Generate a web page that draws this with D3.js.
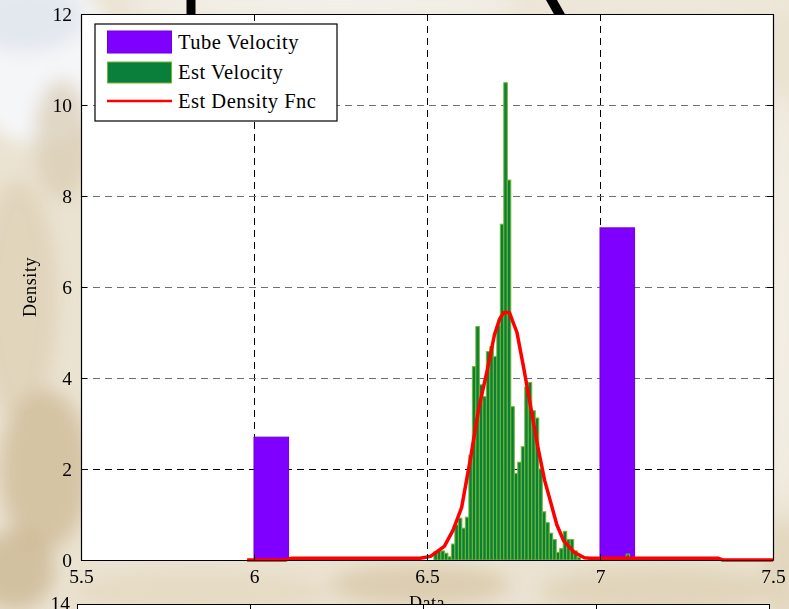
<!DOCTYPE html>
<html>
<head>
<meta charset="utf-8">
<script src="https://cdn.jsdelivr.net/npm/d3@7"></script>
<style>
  html, body { margin: 0; padding: 0; background: #ece4d4; overflow: hidden; }
  svg { display: block; }
  text { font-family: "Liberation Serif", "DejaVu Serif", serif; fill: #000; }
</style>
</head>
<body>
<svg id="chart" width="789" height="609"></svg>
<script>
// ---- data ----
// Tube velocity histogram (density), bins 0.1 wide
const tubeBinStarts = [6.0, 7.0];
const tubeBinWidth = 0.1;
const tubeDensity = [2.7, 7.3];

// Estimated velocity histogram (density)
const estBinStart = 6.52;
const estBinWidth = 0.0101;
const estDensity = [
  0.18, 0.22, 0.20, 0.15, 0.07, 0.35, 0.77, 0.92, 0.70, 0.94,
  2.30, 4.25, 5.13, 3.85, 3.59, 4.58, 4.69, 4.47, 5.16, 7.38,
  10.49, 8.35, 3.37, 1.90, 2.15, 2.49, 3.80, 3.90, 3.28, 3.12,
  2.00, 1.06, 0.82, 0.59, 0.45, 0.17, 0.25, 0.63, 0.45, 0.45,
  0.20, 0.06, 0, 0, 0, 0, 0, 0, 0, 0,
  0, 0, 0, 0, 0, 0.13
];

// Estimated density function
const densX = [5.98, 6.09, 6.11, 6.48, 6.51, 6.55, 6.575, 6.60, 6.625, 6.65,
               6.675, 6.695, 6.71, 6.722, 6.738, 6.76, 6.78, 6.80, 6.82, 6.84,
               6.86, 6.875, 6.895, 6.925, 6.955, 6.97, 7.34, 7.355, 7.5];
const densY = [0, 0, 0.04, 0.04, 0.08, 0.30, 0.65, 1.15, 2.2, 3.35,
               4.2, 4.95, 5.3, 5.44, 5.44, 5.0, 4.2, 3.35, 2.5, 1.75,
               1.2, 0.78, 0.42, 0.17, 0.05, 0.04, 0.04, 0, 0];

const xTicks = [5.5, 6, 6.5, 7, 7.5];
const yTicks = [0, 2, 4, 6, 8, 10, 12];
const legendLabels = ["Tube Velocity", "Est Velocity", "Est Density Fnc"];
const xLabel = "Data";
const yLabel = "Density";
const nextAxisTopLabel = "14";

// ---- layout ----
const svg = d3.select("#chart");
const W = 789, H = 609;
const plot = { left: 81, right: 773, top: 14, bottom: 560 };

const x = d3.scaleLinear().domain([5.5, 7.5]).range([plot.left, plot.right]);
const y = d3.scaleLinear().domain([0, 12]).range([plot.bottom, plot.top]);

const colors = {
  tube: "#8000ff", tubeEdge: "#6a00d8",
  est: "#0a7f3b", estEdge: "#74b82c",
  dens: "#ff0000"
};

// ---- soft photographic backdrop ----
const defs = svg.append("defs");
defs.append("filter").attr("id", "soft")
  .attr("x", "-50%").attr("y", "-50%").attr("width", "200%").attr("height", "200%")
  .append("feGaussianBlur").attr("stdDeviation", 9);

svg.append("rect").attr("width", W).attr("height", H).attr("fill", "#ebe3d2");
const backdrop = [
  [40, 60, 75, 85, "#f5f6f8", 1],
  [25, 18, 60, 35, "#dfe5ec", 0.8],
  [62, 140, 28, 60, "#d7cab0", 0.7],
  [18, 300, 40, 120, "#e0d3b9", 0.9],
  [45, 470, 45, 80, "#cfbb98", 0.8],
  [15, 570, 40, 40, "#c8b28b", 0.7],
  [200, 592, 130, 22, "#e6dac3", 0.9],
  [420, 585, 90, 20, "#d5c4a3", 0.7],
  [660, 590, 120, 24, "#dfd1b5", 0.8],
  [783, 300, 18, 210, "#f3eee5", 0.9],
  [783, 570, 20, 50, "#e0d3b9", 0.8],
  [340, 4, 220, 12, "#f4f2ed", 1],
  [660, 4, 160, 12, "#eee8dc", 1]
];
const bg = svg.append("g").attr("filter", "url(#soft)");
backdrop.forEach(b => bg.append("ellipse")
  .attr("cx", b[0]).attr("cy", b[1]).attr("rx", b[2]).attr("ry", b[3])
  .attr("fill", b[4]).attr("opacity", b[5]));

// fragments of the large slide title behind the axes
svg.append("rect").attr("x", 186.5).attr("y", 0).attr("width", 9).attr("height", 20).attr("fill", "#000");
svg.append("path").attr("d", "M546,0 L557,0 L566,16 L555,16 Z").attr("fill", "#000");

// ---- x label (partly covered by the next axes) ----
svg.append("text").attr("x", x(6.5)).attr("y", 609)
  .attr("text-anchor", "middle").attr("font-size", 18).attr("letter-spacing", 0.5)
  .text(xLabel);

// ---- next axes peeking in at the bottom ----
const x2 = d3.scaleLinear().domain([5.5, 7.5]).range([77, 769]);
svg.append("rect").attr("x", 77).attr("y", 604).attr("width", 692).attr("height", 40)
  .attr("fill", "#fff").attr("stroke", "#000").attr("stroke-width", 1)
  .attr("shape-rendering", "crispEdges");
svg.append("g").selectAll("line").data(xTicks.slice(1, -1)).join("line")
  .attr("x1", d => Math.round(x2(d)) + 0.5).attr("x2", d => Math.round(x2(d)) + 0.5)
  .attr("y1", 604).attr("y2", 611).attr("stroke", "#000");
svg.append("text").attr("x", 70).attr("y", 604).attr("dy", "0.32em")
  .attr("text-anchor", "end").attr("font-size", 19.5).text(nextAxisTopLabel);

// ---- plot area ----
svg.append("rect").attr("x", plot.left).attr("y", plot.top)
  .attr("width", plot.right - plot.left).attr("height", plot.bottom - plot.top)
  .attr("fill", "#fff");

// dashed grid
const grid = svg.append("g").attr("shape-rendering", "crispEdges");
grid.selectAll(".gx").data(xTicks.slice(1, -1)).join("line")
  .attr("x1", d => Math.round(x(d)) + 0.5).attr("x2", d => Math.round(x(d)) + 0.5)
  .attr("y1", plot.top).attr("y2", plot.bottom)
  .attr("stroke", "#000").attr("stroke-dasharray", "7,5");
grid.selectAll(".gy").data(yTicks.slice(1, -1)).join("line")
  .attr("x1", plot.left).attr("x2", plot.right)
  .attr("y1", d => Math.round(y(d)) + 0.5).attr("y2", d => Math.round(y(d)) + 0.5)
  .attr("stroke", d => d === 2 ? "#000" : "#707070").attr("stroke-dasharray", "7,5");

// tube velocity bars
svg.append("g").selectAll("rect").data(tubeBinStarts.map((s, i) => ({ s, v: tubeDensity[i] })))
  .join("rect")
  .attr("x", d => x(d.s)).attr("width", d => x(d.s + tubeBinWidth) - x(d.s))
  .attr("y", d => y(d.v)).attr("height", d => y(0) - y(d.v))
  .attr("fill", colors.tube).attr("stroke", colors.tubeEdge).attr("stroke-width", 1);

// estimated velocity bars
const estBins = estDensity.map((v, i) => ({ s: estBinStart + i * estBinWidth, v }))
  .filter(d => d.v > 0);
svg.append("g").selectAll("rect").data(estBins).join("rect")
  .attr("x", d => x(d.s)).attr("width", d => x(d.s + estBinWidth) - x(d.s))
  .attr("y", d => y(d.v)).attr("height", d => y(0) - y(d.v))
  .attr("fill", colors.est).attr("stroke", colors.estEdge).attr("stroke-width", 1);

// density curve
const line = d3.line().x(d => x(d[0])).y(d => y(d[1]));
svg.append("path").datum(densX.map((v, i) => [v, densY[i]]))
  .attr("d", line).attr("fill", "none")
  .attr("stroke", colors.dens).attr("stroke-width", 3.5).attr("stroke-linejoin", "round");

// ---- axes (inward ticks on all four sides) ----
const tickLen = 6;
const axB = svg.append("g").attr("transform", `translate(0,${plot.bottom})`)
  .call(d3.axisBottom(x).tickValues(xTicks).tickSizeInner(-tickLen).tickSizeOuter(0)
    .tickPadding(9).tickFormat(d3.format("~g")));
const axL = svg.append("g").attr("transform", `translate(${plot.left},0)`)
  .call(d3.axisLeft(y).tickValues(yTicks).tickSizeInner(-tickLen).tickSizeOuter(0)
    .tickPadding(9).tickFormat(d3.format("~g")));
const axT = svg.append("g").attr("transform", `translate(0,${plot.top})`)
  .call(d3.axisTop(x).tickValues(xTicks).tickSizeInner(-tickLen).tickSizeOuter(0).tickFormat(""));
const axR = svg.append("g").attr("transform", `translate(${plot.right},0)`)
  .call(d3.axisRight(y).tickValues(yTicks).tickSizeInner(-tickLen).tickSizeOuter(0).tickFormat(""));
[axB, axL, axT, axR].forEach(g => {
  g.attr("font-family", null).attr("font-size", null);
  g.selectAll("path.domain").attr("stroke", "#000").attr("stroke-width", 1.2);
  g.selectAll(".tick line").attr("stroke", "#000");
  g.selectAll("text").attr("font-size", 19.5).attr("fill", "#000");
});

// y label
svg.append("text")
  .attr("transform", `translate(36,${(plot.top + plot.bottom) / 2}) rotate(-90)`)
  .attr("text-anchor", "middle").attr("font-size", 18).attr("letter-spacing", 0.6)
  .text(yLabel);

// ---- legend ----
const lg = svg.append("g").attr("transform", "translate(95,24)");
lg.append("rect").attr("x", 0).attr("y", 0).attr("width", 242).attr("height", 97)
  .attr("fill", "#fff").attr("stroke", "#000").attr("stroke-width", 1.2);
const rowY = [18, 48, 77];
lg.append("rect").attr("x", 12.5).attr("y", rowY[0] - 11).attr("width", 64).attr("height", 22)
  .attr("fill", colors.tube).attr("stroke", colors.tubeEdge);
lg.append("rect").attr("x", 12.5).attr("y", rowY[1] - 10).attr("width", 64).attr("height", 21)
  .attr("fill", colors.est).attr("stroke", colors.estEdge);
lg.append("line").attr("x1", 12).attr("x2", 77).attr("y1", rowY[2]).attr("y2", rowY[2])
  .attr("stroke", colors.dens).attr("stroke-width", 2.7);
lg.selectAll("text.lab").data(legendLabels).join("text")
  .attr("class", "lab")
  .attr("x", 83).attr("y", (d, i) => rowY[i]).attr("dy", "0.34em")
  .attr("font-size", 20.5).attr("letter-spacing", 0.5)
  .text(d => d);
</script>
</body>
</html>
